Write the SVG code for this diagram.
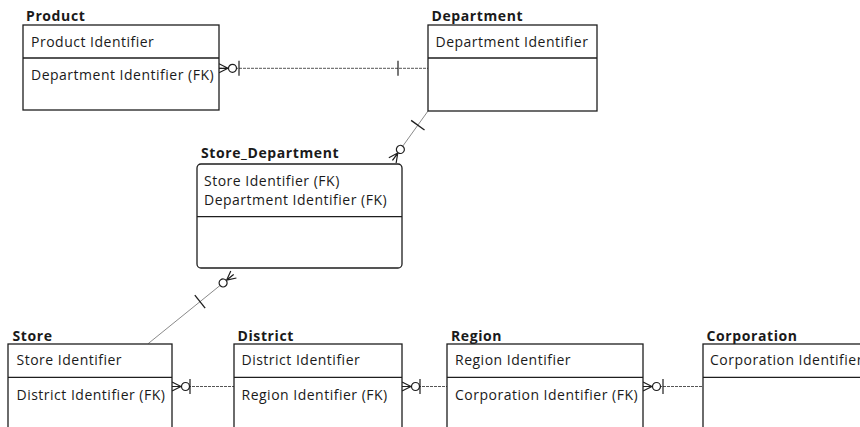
<svg xmlns="http://www.w3.org/2000/svg" xmlns:xlink="http://www.w3.org/1999/xlink" width="860" height="427" viewBox="0 0 860 427">
  <style>
    .box { fill: #ffffff; stroke: #1e1e1e; stroke-width: 1.3; }
    .div { stroke: #1e1e1e; stroke-width: 1.3; }
    .title { font-family: "Open Sans", "Noto Sans", sans-serif; font-size: 14px; font-weight: bold; letter-spacing: 0.6px; fill: #1a1a1a; }
    .attr { font-family: "Open Sans", "Noto Sans", sans-serif; font-size: 14px; letter-spacing: 0.5px; fill: #1a1a1a; }
    .rel { stroke: #555555; stroke-width: 1; stroke-dasharray: 3 1; fill: none; }
    .diag { stroke: #8a8a8a; stroke-width: 1; fill: none; }
    .sym { stroke: #1e1e1e; stroke-width: 1.2; fill: #ffffff; }
  </style>
  <defs>
    <!-- zero-or-many end: crow's foot at the entity edge, then a ring -->
    <g id="many">
      <path class="sym" d="M0,-4.5 L9,0 M0,0 L9,0 M0,4.5 L9,0" fill="none"/>
      <circle class="sym" cx="13.5" cy="0" r="4"/>
    </g>
    <!-- one mark -->
    <line id="bar" class="sym" x1="0" y1="-7.5" x2="0" y2="7.5"/>
  </defs>

  <!-- relationships -->
  <g id="connectors">
    <line class="rel" x1="219" y1="68.3" x2="428" y2="68.3"/>
    <use xlink:href="#many" transform="translate(219,68.3)"/>
    <use xlink:href="#bar" transform="translate(239,68.3)"/>
    <use xlink:href="#bar" transform="translate(398,68.3)"/>

    <line class="diag" x1="392.5" y1="160.4" x2="428" y2="111"/>
    <use xlink:href="#many" transform="translate(392.5,160.4) rotate(-54.3)"/>
    <use xlink:href="#bar" transform="translate(392.5,160.4) rotate(-54.3) translate(43.4,0) scale(1.1)"/>

    <line class="diag" x1="233.6" y1="274.5" x2="148.3" y2="343.5"/>
    <use xlink:href="#many" transform="translate(233.6,274.5) rotate(141.1)"/>
    <use xlink:href="#bar" transform="translate(233.6,274.5) rotate(141.1) translate(43.2,0) scale(1.1)"/>

    <line class="rel" x1="172" y1="386.5" x2="234" y2="386.5"/>
    <use xlink:href="#many" transform="translate(172,386.5)"/>
    <use xlink:href="#bar" transform="translate(190,386.5)"/>

    <line class="rel" x1="402" y1="386.5" x2="447" y2="386.5"/>
    <use xlink:href="#many" transform="translate(402,386.5)"/>
    <use xlink:href="#bar" transform="translate(420,386.5)"/>

    <line class="rel" x1="643" y1="386.5" x2="703" y2="386.5"/>
    <use xlink:href="#many" transform="translate(643,386.5)"/>
    <use xlink:href="#bar" transform="translate(663,386.5)"/>
  </g>

  <!-- entities -->
  <g id="product">
    <text class="title" x="26" y="20.7">Product</text>
    <rect class="box" x="23" y="25" width="196" height="85"/>
    <line class="div" x1="23" y1="58" x2="219" y2="58"/>
    <text class="attr" x="31" y="46.7">Product Identifier</text>
    <text class="attr" x="31" y="80">Department Identifier (FK)</text>
  </g>

  <g id="department">
    <text class="title" x="431.5" y="21">Department</text>
    <rect class="box" x="428" y="25" width="169" height="86"/>
    <line class="div" x1="428" y1="58" x2="597" y2="58"/>
    <text class="attr" x="435.5" y="46.7">Department Identifier</text>
  </g>

  <g id="store_department">
    <text class="title" x="201" y="158.3">Store_Department</text>
    <rect class="box" x="197" y="164" width="205" height="104" rx="4" ry="4"/>
    <line class="div" x1="197" y1="216.7" x2="402" y2="216.7"/>
    <text class="attr" x="204" y="185.7">Store Identifier (FK)</text>
    <text class="attr" x="204" y="205">Department Identifier (FK)</text>
  </g>

  <g id="store">
    <text class="title" x="12.5" y="341">Store</text>
    <rect class="box" x="8" y="344" width="164" height="100"/>
    <line class="div" x1="8" y1="377.3" x2="172" y2="377.3"/>
    <text class="attr" x="16.5" y="365">Store Identifier</text>
    <text class="attr" x="16.5" y="400">District Identifier (FK)</text>
  </g>

  <g id="district">
    <text class="title" x="237.5" y="341">District</text>
    <rect class="box" x="234" y="344" width="168" height="100"/>
    <line class="div" x1="234" y1="377.3" x2="402" y2="377.3"/>
    <text class="attr" x="241.5" y="365">District Identifier</text>
    <text class="attr" x="241.5" y="400">Region Identifier (FK)</text>
  </g>

  <g id="region">
    <text class="title" x="451" y="341">Region</text>
    <rect class="box" x="447" y="344" width="196" height="100"/>
    <line class="div" x1="447" y1="377.3" x2="643" y2="377.3"/>
    <text class="attr" x="455" y="365">Region Identifier</text>
    <text class="attr" x="455" y="400">Corporation Identifier (FK)</text>
  </g>

  <g id="corporation">
    <text class="title" x="706.5" y="341">Corporation</text>
    <rect class="box" x="703" y="344" width="180" height="100"/>
    <line class="div" x1="703" y1="377.3" x2="883" y2="377.3"/>
    <text class="attr" x="710" y="365">Corporation Identifier</text>
  </g>
</svg>
